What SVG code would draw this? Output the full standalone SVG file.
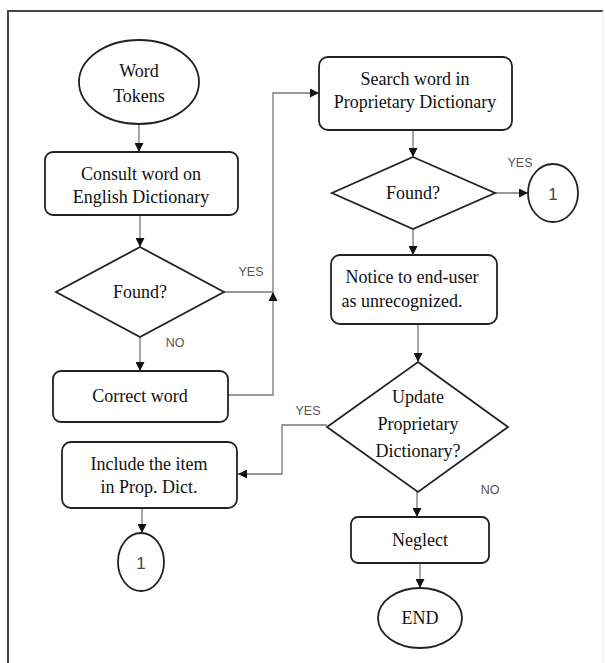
<svg xmlns="http://www.w3.org/2000/svg" width="605" height="663" viewBox="0 0 605 663">
<style>
.n{fill:#fff;stroke:#222;stroke-width:1.8}
.t{font-family:"Liberation Serif","Times New Roman",serif;font-size:18px;fill:#111;text-anchor:middle}
.c{fill:none;stroke:#777;stroke-width:1.3}
.l{font-family:"Liberation Sans",Arial,sans-serif;font-size:12.5px;fill:#555;text-anchor:middle}
.k{font-family:"Liberation Sans",Arial,sans-serif;font-size:17px;fill:#444;text-anchor:middle}
</style>
<defs>
<marker id="a" viewBox="0 0 10 10" refX="10" refY="5" markerWidth="9" markerHeight="9" markerUnits="userSpaceOnUse" orient="auto">
<path d="M0,0L10,5L0,10z" fill="#111"/>
</marker>
</defs>
<g id="frame">
<path d="M8,663V11H603" fill="none" stroke="#444" stroke-width="2"/>
<path d="M603,11V663" fill="none" stroke="#eee" stroke-width="1"/>
</g>
<g id="connectors">
<path class="c" d="M139,125V152" marker-end="url(#a)"/>
<path class="c" d="M140,215V247" marker-end="url(#a)"/>
<path class="c" d="M140,337V371" marker-end="url(#a)"/>
<path class="c" d="M228,395H273V292" marker-end="url(#a)"/>
<path class="c" d="M224,292H273V93H319" marker-end="url(#a)"/>
<path class="c" d="M413,130V157" marker-end="url(#a)"/>
<path class="c" d="M495,193H528" marker-end="url(#a)"/>
<path class="c" d="M413,229V255" marker-end="url(#a)"/>
<path class="c" d="M418,324V362" marker-end="url(#a)"/>
<path class="c" d="M327,425H282V474H238" marker-end="url(#a)"/>
<path class="c" d="M142,508V533" marker-end="url(#a)"/>
<path class="c" d="M417,492V517" marker-end="url(#a)"/>
<path class="c" d="M420,563V588" marker-end="url(#a)"/>
<text class="l" x="251" y="276">YES</text>
<text class="l" x="175" y="347">NO</text>
<text class="l" x="520" y="167">YES</text>
<text class="l" x="308" y="415">YES</text>
<text class="l" x="490" y="494">NO</text>
</g>
<g id="start">
<ellipse class="n" cx="139" cy="82" rx="60" ry="42"/>
<text class="t" x="139" y="77">Word</text>
<text class="t" x="139" y="102">Tokens</text>
</g>
<g id="consult">
<rect class="n" x="45" y="152" width="193" height="63" rx="8"/>
<text class="t" x="141" y="180">Consult word on</text>
<text class="t" x="141" y="203">English Dictionary</text>
</g>
<g id="found1">
<path class="n" d="M140,247L224,292L140,337L56,292z"/>
<text class="t" x="140" y="298">Found?</text>
</g>
<g id="correct">
<rect class="n" x="53" y="371" width="175" height="51" rx="8"/>
<text class="t" x="140" y="402">Correct word</text>
</g>
<g id="search">
<rect class="n" x="319" y="57" width="193" height="73" rx="9"/>
<text class="t" x="415" y="85">Search word in</text>
<text class="t" x="415" y="108">Proprietary Dictionary</text>
</g>
<g id="found2">
<path class="n" d="M413,157L495,193L413,229L332,193z"/>
<text class="t" x="413" y="199">Found?</text>
</g>
<g id="conn1a">
<ellipse class="n" cx="553" cy="193" rx="25" ry="29"/>
<text class="k" x="553" y="200">1</text>
</g>
<g id="notice">
<rect class="n" x="331" y="255" width="166" height="69" rx="9"/>
<text class="t" x="412" y="283">Notice to end-user</text>
<text class="t" x="402" y="307">as unrecognized.</text>
</g>
<g id="update">
<path class="n" d="M418,362L508,427L418,492L327,427z"/>
<text class="t" x="418" y="403">Update</text>
<text class="t" x="418" y="430">Proprietary</text>
<text class="t" x="418" y="457">Dictionary?</text>
</g>
<g id="include">
<rect class="n" x="62" y="442" width="175" height="66" rx="9"/>
<text class="t" x="149" y="470">Include the item</text>
<text class="t" x="149" y="493">in Prop. Dict.</text>
</g>
<g id="conn1b">
<ellipse class="n" cx="141" cy="562" rx="23" ry="29"/>
<text class="k" x="141" y="569">1</text>
</g>
<g id="neglect">
<rect class="n" x="351" y="517" width="138" height="46" rx="7"/>
<text class="t" x="420" y="546">Neglect</text>
</g>
<g id="end">
<ellipse class="n" cx="420" cy="618" rx="42" ry="30"/>
<text class="t" x="420" y="624">END</text>
</g>
</svg>
